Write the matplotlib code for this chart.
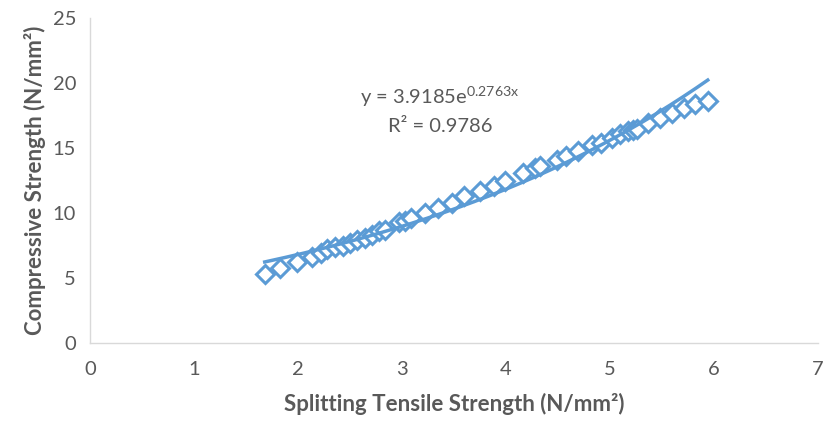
import matplotlib
matplotlib.use("Agg")
import matplotlib.pyplot as plt
import numpy as np

plt.rcParams["font.family"] = ["Lato", "DejaVu Sans"]
plt.rcParams["mathtext.default"] = "regular"

BLUE = "#5B9BD5"
TXT = "#595959"

# splitting tensile vs compressive strength, N/mm²
tensile = [1.68, 1.83, 1.99, 2.13, 2.22, 2.28, 2.36, 2.43, 2.50, 2.57, 2.64, 2.71, 2.78,
           2.84, 2.97, 3.03, 3.09, 3.22, 3.35, 3.48, 3.60, 3.75, 3.88, 3.99, 4.16,
           4.28, 4.33, 4.49, 4.58, 4.69, 4.83, 4.91, 5.02, 5.10, 5.17, 5.22, 5.26,
           5.37, 5.48, 5.60, 5.71, 5.82, 5.94]
compressive = [5.3, 5.8, 6.2, 6.6, 6.9, 7.2, 7.4, 7.5, 7.7, 7.9, 8.1, 8.3, 8.6,
               8.7, 9.3, 9.4, 9.6, 10.0, 10.4, 10.8, 11.3, 11.7, 12.1, 12.5, 13.1,
               13.5, 13.6, 14.1, 14.4, 14.8, 15.2, 15.4, 15.8, 16.1, 16.3, 16.4, 16.5,
               16.9, 17.3, 17.7, 18.1, 18.4, 18.6]

# exponential trendline y = a*e^(b*x)
a, b = 3.9185, 0.2763
r2 = 0.9786

fig, ax = plt.subplots(figsize=(8.23, 4.23), dpi=100)
fig.subplots_adjust(left=90 / 823, right=818 / 823, top=1 - 18 / 423, bottom=1 - 343 / 423)

ax.plot(tensile, compressive, linestyle="none", marker="D", markersize=9,
        markerfacecolor="white", markeredgecolor=BLUE, markeredgewidth=2.2, zorder=3)

xt = np.linspace(min(tensile), max(tensile), 200)
ax.plot(xt, a * np.exp(b * xt), color=BLUE, linewidth=2.5, zorder=4)

ax.text(440 / 823, 1 - 97 / 423, f"y = {a}e$^{{{b}x}}$", transform=fig.transFigure,
        fontsize=14.5, color=TXT, ha="center", va="center")
ax.text(440 / 823, 1 - 127 / 423, f"R² = {r2}", transform=fig.transFigure,
        fontsize=14.5, color=TXT, ha="center", va="center")

ax.set_xlim(0, 7)
ax.set_ylim(0, 25)
ax.set_xticks(range(0, 8))
ax.set_yticks(range(0, 26, 5))
ax.tick_params(length=0, labelsize=14.5, labelcolor=TXT)
ax.tick_params(axis="x", pad=13)
ax.tick_params(axis="y", pad=10)

ax.set_xlabel("Splitting Tensile Strength (N/mm²)", fontsize=16, fontweight="bold",
              color=TXT, labelpad=11)
ax.set_ylabel("Compressive Strength (N/mm²)", fontsize=16, fontweight="bold",
              color=TXT, labelpad=5)

for s in ["top", "right"]:
    ax.spines[s].set_visible(False)
for s in ["left", "bottom"]:
    ax.spines[s].set_color("#D9D9D9")
    ax.spines[s].set_linewidth(1)

fig.savefig("out.png", dpi=100, facecolor="white")
